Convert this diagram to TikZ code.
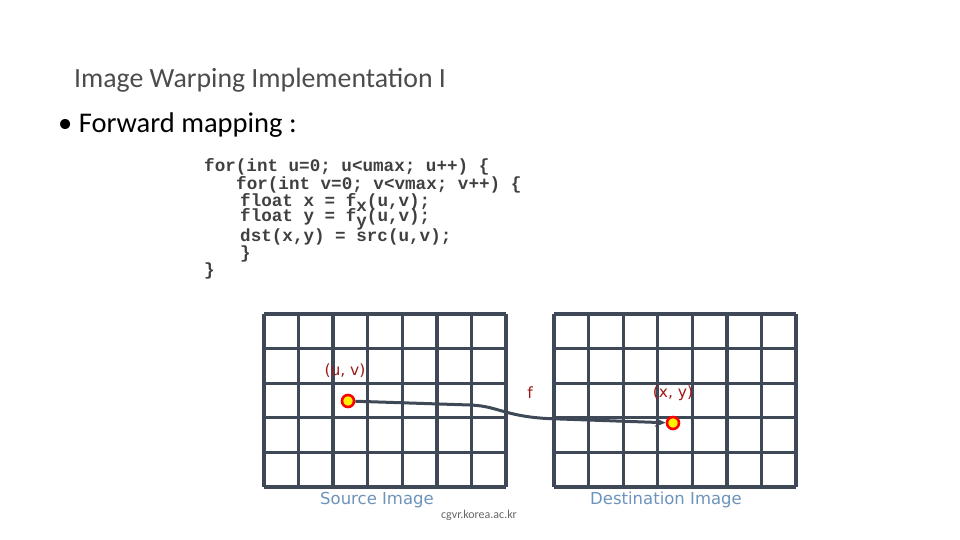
\documentclass[tikz,border=0pt]{standalone}
\usepackage{fontspec}
\setmainfont{Carlito}
\newfontfamily\codefont{Liberation Mono}
\newfontfamily\labfont{DejaVu Sans}
\usetikzlibrary{arrows.meta}
\definecolor{gridc}{HTML}{3E4857}
\definecolor{labred}{HTML}{A01818}
\definecolor{capblue}{HTML}{6C93BC}
\begin{document}
\begin{tikzpicture}[x=1pt,y=-1pt,
  gridline/.style={gridc,line width=3.3pt},
  code/.style={anchor=west,inner sep=0,font=\codefont\bfseries\fontsize{17.6}{17.6}\selectfont,text=black!75},
  lbl/.style={inner sep=0,text=labred,font=\labfont\fontsize{15.5}{15.5}\selectfont},
  captext/.style={inner sep=0,text=capblue,font=\labfont\fontsize{16.5}{16.5}\selectfont},
  pt/.style={circle,draw=red,fill=yellow,line width=2.6pt,minimum size=12pt,inner sep=0}]
\useasboundingbox (0,0) rectangle (960,540);
\node[anchor=west,inner sep=0,text=black!70,font=\fontsize{27.8}{27.8}\selectfont] (title) at (74,80) {Image Warping Implementation I};
\node[anchor=west,inner sep=0,font=\fontsize{28.5}{28.5}\selectfont] (bullet) at (58,125) {\textbullet\ Forward mapping :};
\node[code] (c1) at (204,167) {for(int u=0; u<umax; u++) \{};
\node[code] (c2) at (236,185) {for(int v=0; v<vmax; v++) \{};
\node[code] (c3) at (240,202) {float x = f\raisebox{-5pt}{x}(u,v);};
\node[code] (c4) at (240,219) {float y = f\raisebox{-5pt}{y}(u,v);};
\node[code] (c5) at (240,237) {dst(x,y) = src(u,v);};
\node[code] (c6) at (240,254) {\}};
\node[code] (c7) at (204,271) {\}};
\foreach \x in {0,...,7} {
  \draw[gridline] (264+\x*34.57,314) -- (264+\x*34.57,487);
  \draw[gridline] (554+\x*34.57,314) -- (554+\x*34.57,487);
}
\foreach \y in {0,...,5} {
  \draw[gridline] (264,314+\y*34.6) -- (506,314+\y*34.6);
  \draw[gridline] (554,314+\y*34.6) -- (796,314+\y*34.6);
}
\node[pt] (src) at (348,401) {};
\node[pt] (dst) at (673,423) {};
\draw[gridc,line width=3pt,-{Stealth[length=11pt,width=9pt]}] (src) -- (470,405) .. controls (500,406) and (505,418) .. (560,419) -- (dst);
\node[lbl] (uv) at (345,371) {(u, v)};
\node[lbl] (f) at (530,393) {f};
\node[lbl] (xy) at (673,393) {(x, y)};
\node[captext] (s) at (377,500) {Source Image};
\node[captext] (d) at (666,500) {Destination Image};
\node[inner sep=0,text=black!60,font=\fontsize{12}{12}\selectfont] (url) at (479,515) {cgvr.korea.ac.kr};
\end{tikzpicture}
\end{document}
